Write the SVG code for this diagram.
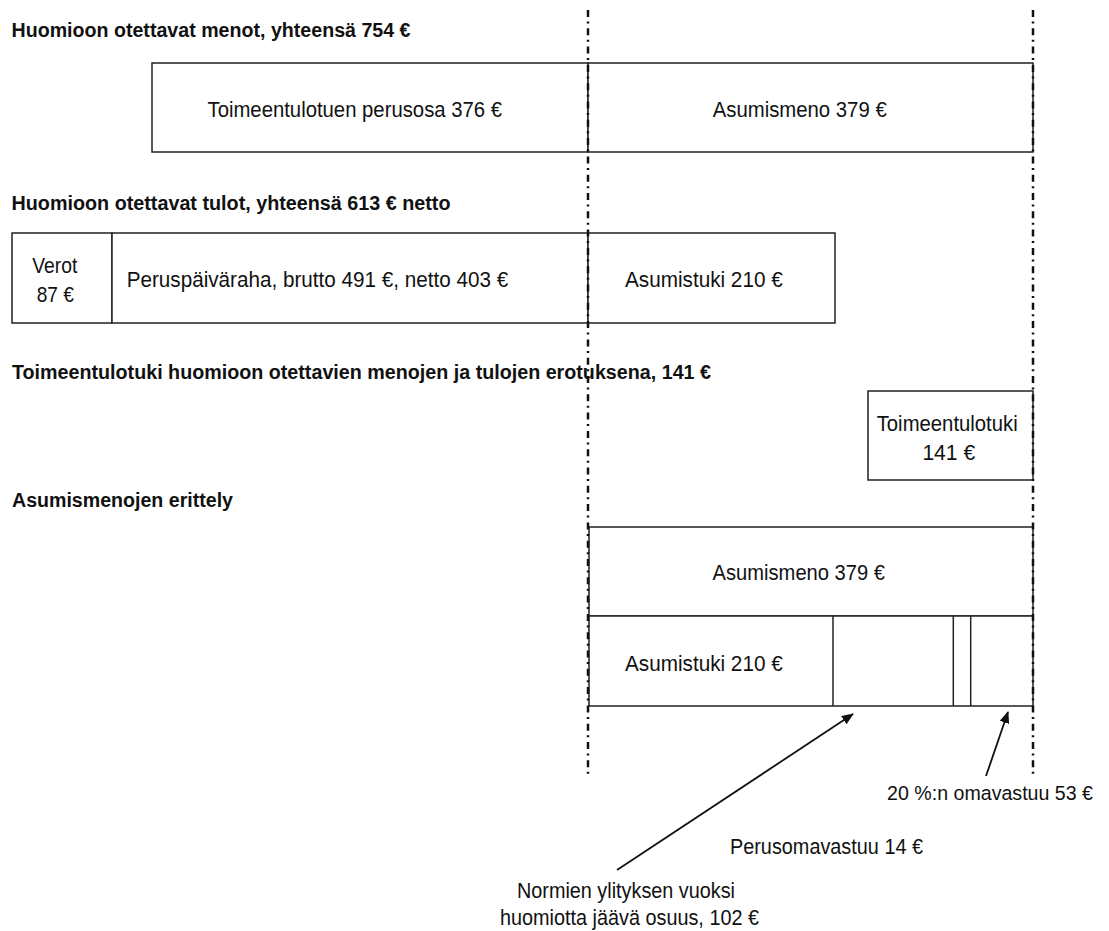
<svg xmlns="http://www.w3.org/2000/svg" width="1109" height="931" viewBox="0 0 1109 931">
<style>
  .bg { fill: #ffffff; }
  .box { fill: #ffffff; stroke: #222222; stroke-width: 1.5; }
  .div { stroke: #222222; stroke-width: 1.5; fill: none; }
  .title { font-family: "Liberation Sans", Arial, sans-serif; font-weight: bold; font-size: 20px; fill: #111111; }
  .lbl { font-family: "Liberation Sans", Arial, sans-serif; font-size: 22px; fill: #111111; }
  .guide { stroke: #111111; stroke-width: 2.5; fill: none; stroke-dasharray: 7 4.5 2 4.8; }
  .arrow { stroke: #111111; stroke-width: 1.8; fill: none; marker-end: url(#ah); }
</style>
<defs>
  <marker id="ah" viewBox="0 0 12 10" refX="11" refY="5" markerWidth="12" markerHeight="10" markerUnits="userSpaceOnUse" orient="auto">
    <path d="M0,0 L12,5 L0,10 Z" fill="#111111"/>
  </marker>
</defs>
<rect class="bg" x="0" y="0" width="1109" height="931"/>

<g id="titles">
  <text class="title" x="11.5" y="37" textLength="399" lengthAdjust="spacingAndGlyphs">Huomioon otettavat menot, yhteensä 754 €</text>
  <text class="title" x="11.5" y="209.5" textLength="439" lengthAdjust="spacingAndGlyphs">Huomioon otettavat tulot, yhteensä 613 € netto</text>
  <text class="title" x="12" y="379" textLength="699" lengthAdjust="spacingAndGlyphs">Toimeentulotuki huomioon otettavien menojen ja tulojen erotuksena, 141 €</text>
  <text class="title" x="12" y="507" textLength="221" lengthAdjust="spacingAndGlyphs">Asumismenojen erittely</text>
</g>

<g id="perusosa">
  <rect class="box" x="152" y="63" width="436" height="89"/>
  <text class="lbl" x="207.5" y="116.5" textLength="294.5" lengthAdjust="spacingAndGlyphs">Toimeentulotuen perusosa 376 €</text>
</g>
<g id="asumismeno-top">
  <rect class="box" x="588" y="63" width="445" height="89"/>
  <text class="lbl" x="712.7" y="116.5" textLength="174" lengthAdjust="spacingAndGlyphs">Asumismeno 379 €</text>
</g>

<g id="verot">
  <rect class="box" x="12" y="233" width="100" height="90"/>
  <text class="lbl" x="32.3" y="273" textLength="45" lengthAdjust="spacingAndGlyphs">Verot</text>
  <text class="lbl" x="36.7" y="301.5" textLength="37.3" lengthAdjust="spacingAndGlyphs">87 €</text>
</g>
<g id="peruspaivaraha">
  <rect class="box" x="112" y="233" width="476" height="90"/>
  <text class="lbl" x="126.7" y="287" textLength="381.6" lengthAdjust="spacingAndGlyphs">Peruspäiväraha, brutto 491 €, netto 403 €</text>
</g>
<g id="asumistuki-top">
  <rect class="box" x="588" y="233" width="247" height="90"/>
  <text class="lbl" x="625" y="287" textLength="157.7" lengthAdjust="spacingAndGlyphs">Asumistuki 210 €</text>
</g>

<g id="toimeentulotuki">
  <rect class="box" x="868" y="391" width="165" height="89"/>
  <text class="lbl" x="876.7" y="431.4" textLength="141" lengthAdjust="spacingAndGlyphs">Toimeentulotuki</text>
  <text class="lbl" x="922.4" y="459.6" textLength="52.8" lengthAdjust="spacingAndGlyphs">141 €</text>
</g>

<g id="asumismeno-erittely">
  <rect class="box" x="589" y="527" width="444" height="89"/>
  <text class="lbl" x="712.6" y="580" textLength="172.4" lengthAdjust="spacingAndGlyphs">Asumismeno 379 €</text>
</g>
<g id="asumismeno-osat">
  <rect class="box" x="589" y="616" width="444" height="90"/>
  <line class="div" x1="833" y1="616" x2="833" y2="706"/>
  <line class="div" x1="953.3" y1="616" x2="953.3" y2="706"/>
  <line class="div" x1="970.7" y1="616" x2="970.7" y2="706"/>
  <text class="lbl" x="625" y="670.5" textLength="157.7" lengthAdjust="spacingAndGlyphs">Asumistuki 210 €</text>
</g>

<g id="guides">
  <line class="guide" x1="588" y1="10" x2="588" y2="777"/>
  <line class="guide" x1="1033" y1="10" x2="1033" y2="777"/>
</g>

<g id="connectors">
  <line class="arrow" x1="986" y1="776" x2="1008" y2="712"/>
  <line class="arrow" x1="617" y1="870" x2="853" y2="714"/>
</g>

<g id="labels">
  <text class="lbl" x="1093" y="800" text-anchor="end" style="font-size:20.5px" textLength="206" lengthAdjust="spacingAndGlyphs">20 %:n omavastuu 53 €</text>
  <text class="lbl" x="730" y="854" textLength="193" lengthAdjust="spacingAndGlyphs">Perusomavastuu 14 €</text>
  <text class="lbl" x="517" y="898" textLength="218" lengthAdjust="spacingAndGlyphs">Normien ylityksen vuoksi</text>
  <text class="lbl" x="500" y="925" textLength="259" lengthAdjust="spacingAndGlyphs">huomiotta jäävä osuus, 102 €</text>
</g>
</svg>
